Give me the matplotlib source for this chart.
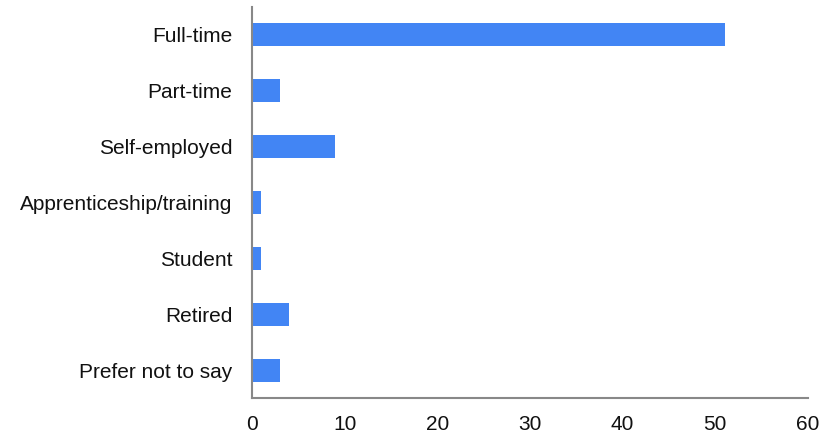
import matplotlib
matplotlib.use("Agg")
import matplotlib.pyplot as plt

categories = ["Full-time", "Part-time", "Self-employed", "Apprenticeship/training",
              "Student", "Retired", "Prefer not to say"]
values = [51, 3, 9, 1, 1, 4, 3]
x_ticks = [0, 10, 20, 30, 40, 50, 60]

plt.rcParams["font.family"] = ["Liberation Sans", "DejaVu Sans"]

fig = plt.figure(figsize=(8.29, 4.36), dpi=100)
ax = fig.add_axes([252 / 829, 1 - 398 / 436, 556 / 829, 391 / 436])

y = list(range(len(categories)))
ax.barh(y, values, height=0.41, color="#4285F4")
ax.set_yticks(y)
ax.set_yticklabels(categories)
ax.set_ylim(len(categories) - 0.5, -0.5)
ax.set_xlim(0, 60)
ax.set_xticks(x_ticks)

for side in ("top", "right"):
    ax.spines[side].set_visible(False)
for side in ("left", "bottom"):
    ax.spines[side].set_color("#888888")
    ax.spines[side].set_linewidth(1.5)

ax.tick_params(axis="y", length=0, pad=14, labelsize=15, labelcolor="#111111")
ax.tick_params(axis="x", length=0, pad=12, labelsize=15, labelcolor="#111111")

fig.savefig("out.png", dpi=100, facecolor="white")
